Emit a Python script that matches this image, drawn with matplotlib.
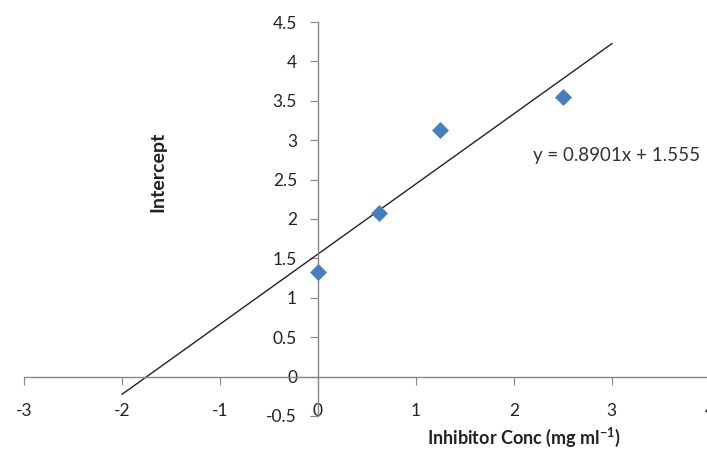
import matplotlib.pyplot as plt
import numpy as np

plt.rcParams['font.family'] = ['Lato', 'DejaVu Sans']

# Dados
conc = [0, 0.625, 1.25, 2.5]
intercept = [1.33, 2.08, 3.13, 3.55]
slope, const = 0.8901, 1.555
trend_x = [-2, 3]
x_ticks = [-3, -2, -1, 0, 1, 2, 3, 4]
y_ticks = [-0.5, 0, 0.5, 1, 1.5, 2, 2.5, 3, 3.5, 4, 4.5]

fig = plt.figure(figsize=(7.07, 4.5), dpi=100)
ax = fig.add_axes([0.034, 0.0756, 0.97, 0.8755])

# Linha de tendência
tx = np.array(trend_x)
ax.plot(tx, slope * tx + const, color='#222222', linewidth=1.0)

# Pontos
ax.scatter(conc, intercept, marker='D', s=75, color='#4a7ebb', zorder=3, linewidths=0)

ax.set_xlim(-3, 4)
ax.set_ylim(-0.5, 4.5)
ax.set_xticks(x_ticks)
ax.set_yticks(y_ticks)
ax.set_xticklabels([str(t) for t in x_ticks])
ax.set_yticklabels([f'{t:g}' for t in y_ticks])

# Eixos cruzando na origem
for s in ['top', 'right']:
    ax.spines[s].set_visible(False)
ax.spines['left'].set_position(('data', 0))
ax.spines['bottom'].set_position(('data', 0))
for s in ['left', 'bottom']:
    ax.spines[s].set_color('#868686')
    ax.spines[s].set_linewidth(1.0)

ax.tick_params(axis='x', direction='out', length=6, pad=13, color='#868686',
               labelsize=12.5, labelcolor='#222222')
ax.tick_params(axis='y', direction='out', length=6, pad=9, color='#868686',
               labelsize=12.5, labelcolor='#222222')

# Textos
ax.text(2.2, 2.81, 'y = 0.8901x + 1.555', fontsize=13.5, color='#333333',
        ha='left', va='center')
ax.text(-1.63, 2.6, 'Intercept', rotation=90, fontsize=14, fontweight='bold',
        ha='center', va='center', color='#222222')
ax.text(2.1, -0.77, 'Inhibitor Conc (mg ml$^{\\mathregular{-1}}$)', fontsize=13,
        fontweight='bold', ha='center', va='center', color='#222222', clip_on=False)

fig.savefig('out.png', dpi=100)
